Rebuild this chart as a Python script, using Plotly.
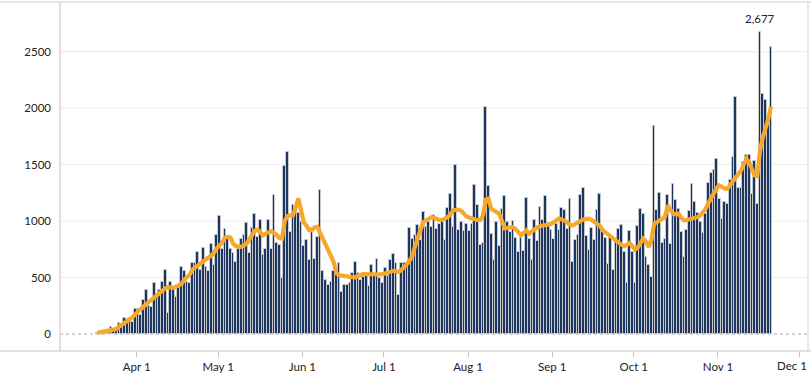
import pandas as pd
import plotly.graph_objects as go

start_date = "2020-03-17"

daily_cases = [
    # Mar 17 - Mar 31
    5, 8, 12, 15, 20, 60, 30, 40, 95, 65, 140, 130, 145, 110, 225,
    # Apr
    225, 170, 300, 390, 250, 240, 450, 330, 390, 462, 565, 188, 462, 400, 324,
    420, 595, 556, 460, 450, 630, 630, 727, 571, 766, 595, 557, 801, 610, 880,
    # May
    1045, 757, 933, 860, 757, 722, 639, 757, 845, 880, 983, 718, 939, 1066, 860,
    1007, 704, 757, 1007, 757, 1228, 807, 786, 492, 1484, 1611, 904, 1146, 1095, 1072, 992,
    # Jun
    783, 836, 660, 939, 668, 860, 1278, 559, 483, 433, 462, 559, 542, 630, 374,
    433, 433, 453, 542, 639, 542, 477, 506, 510, 427, 610, 521, 668, 500, 448,
    # Jul
    586, 510, 654, 713, 630, 345, 630, 630, 595, 942, 845, 875, 963, 830, 1081,
    948, 992, 948, 1051, 933, 972, 1022, 836, 1119, 1243, 948, 1499, 919, 992, 913, 978,
    # Aug
    913, 978, 1322, 1146, 786, 810, 2008, 1307, 889, 660, 992, 777, 1110, 1219, 992,
    904, 1001, 854, 727, 854, 736, 1204, 845, 660, 1007, 822, 1125, 1013, 1219, 983, 919,
    # Sep
    845, 978, 919, 1116, 1101, 933, 1199, 639, 830, 875, 1234, 1293, 866, 742, 942,
    830, 1101, 1243, 942, 851, 624, 866, 565, 822, 933, 969, 727, 448, 913, 727,
    # Oct
    448, 954, 1104, 1060, 683, 610, 501, 1846, 1101, 1248, 807, 845, 1234, 801, 1331,
    1184, 1110, 905, 683, 919, 1087, 1331, 1169, 1075, 992, 898, 1066, 1340, 1425, 1455, 1552,
    # Nov 1 - Nov 20
    1193, 1022, 1169, 1155, 1360, 1572, 2103, 1293, 1293, 1522, 1587, 1581, 1243, 1531, 1155,
    2677, 2126, 2073, 1850, 2538,
]

seven_day_avg = [
    # Mar 17 - Mar 31
    12, 15, 18, 22, 28, 35, 40, 45, 65, 80, 95, 110, 125, 150, 175,
    # Apr
    200, 220, 245, 265, 285, 305, 325, 350, 375, 390, 405, 415, 412, 410, 418,
    430, 445, 480, 505, 525, 570, 590, 610, 620, 640, 665, 680, 695, 720, 760,
    # May
    780, 810, 855, 860, 855, 800, 780, 775, 772, 785, 800, 840, 880, 915, 925,
    900, 875, 890, 905, 910, 895, 880, 850, 845, 1000, 1045, 1050, 1050, 1120, 1200, 1100,
    # Jun
    990, 960, 920, 920, 945, 950, 900, 850, 800, 760, 700, 640, 540, 520, 518,
    515, 512, 505, 502, 500, 515, 525, 532, 530, 528, 530, 532, 530, 528, 530,
    # Jul
    540, 545, 555, 560, 555, 550, 570, 590, 620, 650, 690, 780, 860, 930, 990,
    1005, 1020, 1035, 1030, 1020, 1008, 1010, 1020, 1036, 1060, 1095, 1100, 1102, 1090, 1066, 1040,
    # Aug
    1030, 1022, 1015, 1008, 1010, 1050, 1190, 1200, 1110, 1095, 1080, 1066, 1000, 935, 940,
    945, 948, 930, 900, 875, 895, 919, 890, 910, 930, 945, 954, 958, 960, 963, 975,
    # Sep
    990, 1005, 1022, 1015, 1007, 990, 965, 963, 975, 990, 1007, 1015, 1020, 1022, 1010,
    995, 985, 960, 920, 900, 880, 862, 840, 818, 800, 790, 777, 795, 807, 780,
    # Oct
    748, 765, 800, 845, 820, 771, 830, 978, 990, 1001, 1020, 1036, 1140, 1100, 1066,
    1060, 1066, 1030, 1007, 1010, 1015, 1022, 1030, 1036, 1050, 1080, 1110, 1160, 1210, 1257, 1290,
    # Nov 1 - Nov 20
    1316, 1300, 1290, 1287, 1320, 1350, 1380, 1410, 1449, 1500, 1552, 1520, 1470, 1405, 1400,
    1625, 1740, 1820, 1900, 2014,
]

x_tick_dates = ["2020-04-01", "2020-05-01", "2020-06-01", "2020-07-01", "2020-08-01",
                "2020-09-01", "2020-10-01", "2020-11-01", "2020-12-01"]
x_tick_labels = ["Apr 1", "May 1", "Jun 1", "Jul 1", "Aug 1", "Sep 1", "Oct 1", "Nov 1", "Dec 1"]
y_tick_values = [0, 500, 1000, 1500, 2000, 2500]
y_tick_labels = ["0", "500", "1000", "1500", "2000", "2500"]

dates = pd.date_range(start_date, periods=len(daily_cases), freq="D")

FONT = "Lato"
NAVY = "#1d3660"
ORANGE = "#f5a82a"
TEXT = "#222222"
DAY_MS = 86400000

fig = go.Figure()

fig.add_trace(go.Bar(
    x=dates, y=daily_cases,
    xperiod=DAY_MS, xperiodalignment="middle",
    marker=dict(color=NAVY, line=dict(color="#c6c8cc", width=1)),
    hoverinfo="x+y", showlegend=False,
))

fig.add_trace(go.Scatter(
    x=dates, y=seven_day_avg, mode="lines",
    xperiod=DAY_MS, xperiodalignment="middle",
    line=dict(color=ORANGE, width=4.2),
    hoverinfo="x+y", showlegend=False,
))

peak_i = max(range(len(daily_cases)), key=lambda i: daily_cases[i])
fig.add_annotation(
    x=dates[peak_i] + pd.Timedelta(hours=12), y=daily_cases[peak_i],
    text=f"{daily_cases[peak_i]:,}", showarrow=False, yshift=13,
    font=dict(family=FONT, size=11.5, color=TEXT),
)

# The last month label sits nudged left so it stays inside the frame, as in the reference.
shown_tick_text = x_tick_labels[:-1] + [""]
fig.add_annotation(
    x=x_tick_dates[-1], y=0, xref="x", yref="paper",
    text=x_tick_labels[-1], showarrow=False, xanchor="center", yanchor="top",
    xshift=-7, yshift=-6,
    font=dict(family=FONT, size=11.5, color=TEXT),
)

shapes = []
for v in y_tick_values[1:]:
    shapes.append(dict(type="line", xref="paper", yref="y", x0=0, x1=1, y0=v, y1=v,
                       line=dict(color="#ebebeb", width=1), layer="below"))
shapes.append(dict(type="line", xref="paper", yref="y", x0=0, x1=1, y0=0, y1=0,
                   line=dict(color="#aaaaaa", width=1, dash="dot"), layer="below"))
pw = 811 - 60 - 3
shapes.append(dict(type="line", xref="paper", yref="paper", x0=-60 / pw, x1=1 + 3 / pw, y0=1, y1=1,
                   line=dict(color="#cfcfcf", width=1)))
shapes.append(dict(type="line", xref="paper", yref="paper", x0=-60 / pw, x1=1 + 3 / pw, y0=0, y1=0,
                   line=dict(color="#c4c4c4", width=1)))
shapes.append(dict(type="line", xref="paper", yref="paper", x0=0, x1=0, y0=0, y1=1,
                   line=dict(color="#c4c4c4", width=1)))
shapes.append(dict(type="line", xref="paper", yref="paper", x0=1, x1=1, y0=0, y1=1,
                   line=dict(color="#cfcfcf", width=1)))

fig.update_layout(
    width=811, height=375,
    margin=dict(l=60, r=3, t=2, b=24),
    paper_bgcolor="white", plot_bgcolor="white",
    bargap=0,
    shapes=shapes,
    font=dict(family=FONT, size=11, color=TEXT),
    xaxis=dict(
        type="date",
        range=["2020-03-03 18:14", "2020-12-04 03:50"],
        tickvals=x_tick_dates, ticktext=shown_tick_text,
        ticks="outside", ticklen=5, tickcolor="#c4c4c4",
        showgrid=False, zeroline=False, showline=False,
        tickfont=dict(family=FONT, size=11.5, color=TEXT),
    ),
    yaxis=dict(
        range=[-150, 2940],
        tickvals=y_tick_values, ticktext=y_tick_labels,
        showgrid=False, zeroline=False, showline=False,
        ticks="", ticklabelstandoff=8,
        tickfont=dict(family=FONT, size=11.5, color=TEXT),
    ),
)

fig.write_html(
    "out.html",
    config={"displayModeBar": False},
    post_script="document.body.style.margin='0';document.body.style.padding='0';",
)
